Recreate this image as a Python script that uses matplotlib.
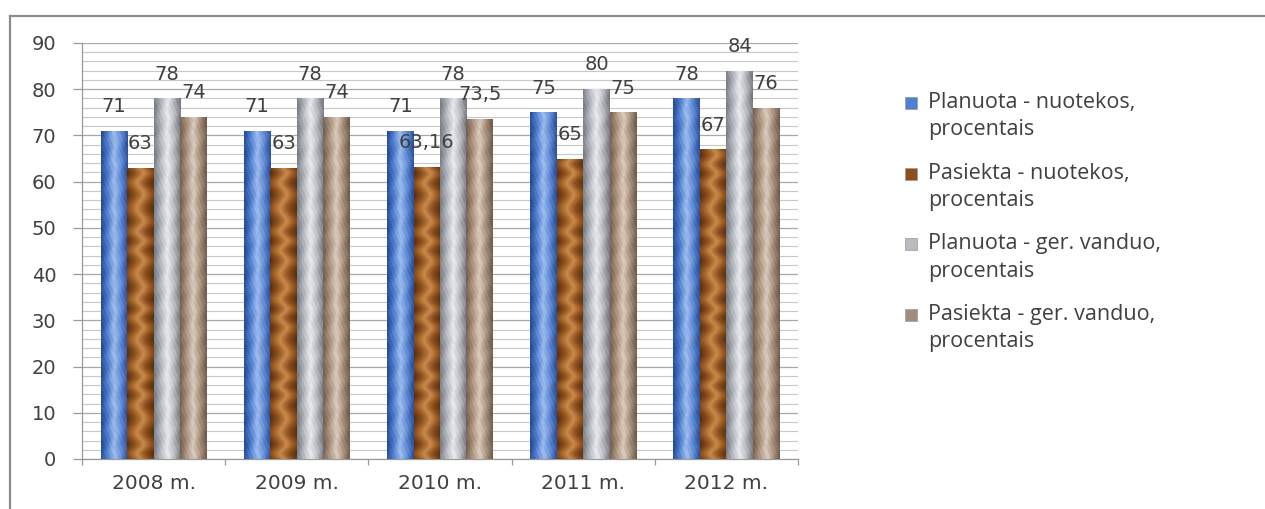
import numpy as np
import matplotlib
matplotlib.use("Agg")
import matplotlib.pyplot as plt
from matplotlib.colors import LinearSegmentedColormap
from matplotlib.lines import Line2D
from matplotlib.patches import Rectangle

# ---- data ----
categories = ["2008 m.", "2009 m.", "2010 m.", "2011 m.", "2012 m."]
series_names = [
    "Planuota - nuotekos,\nprocentais",
    "Pasiekta - nuotekos,\nprocentais",
    "Planuota - ger. vanduo,\nprocentais",
    "Pasiekta - ger. vanduo,\nprocentais",
]
planuota_nuotekos = [71, 71, 71, 75, 78]
pasiekta_nuotekos = [63, 63, 63.16, 65, 67]
planuota_vanduo = [78, 78, 78, 80, 84]
pasiekta_vanduo = [74, 74, 73.5, 75, 76]
y_ticks = [0, 10, 20, 30, 40, 50, 60, 70, 80, 90]

series = [planuota_nuotekos, pasiekta_nuotekos, planuota_vanduo, pasiekta_vanduo]

# ---- style ----
W, H = 1265, 509
palettes = [
    ["#274c96", "#4f7fd0", "#9fbcec", "#5f8ad6", "#2c5099"],
    ["#5a300f", "#93541f", "#c98a4c", "#8f4f1c", "#55300f"],
    ["#7a7e86", "#b4b8be", "#e8eaee", "#b8bbc1", "#767980"],
    ["#76624f", "#ac9482", "#dccbbb", "#a8907e", "#705c4b"],
]
legend_colors = ["#4f7fd0", "#8f4f1c", "#b8bbc0", "#a48c7a"]
text_color = "#404040"

fig = plt.figure(figsize=(W / 100, H / 100), dpi=100)
ax = fig.add_axes([82 / W, 1 - 459 / H, (798 - 82) / W, (459 - 43) / H])

n = len(categories)
x = np.arange(n)
bw = 0.185
offsets = (np.arange(len(series)) - 1.5) * bw


def fmt(v):
    return f"{v:g}".replace(".", ",")


for si, vals in enumerate(series):
    cmap = LinearSegmentedColormap.from_list(f"c{si}", palettes[si])
    bars = ax.bar(x + offsets[si], vals, width=bw, color=legend_colors[si],
                  edgecolor="none", zorder=3)
    for b, v in zip(bars, vals):
        x0, w, h = b.get_x(), b.get_width(), b.get_height()
        nx, ny = 40, 240
        tx = np.linspace(0, 1, nx)[None, :]
        ty = np.linspace(0, 1, ny)[:, None] * h
        img = tx + 0.0 * ty
        if si == 1:
            img = img * 0.8 + 0.2 * (0.5 + 0.5 * np.sin(ty * 1.3 + 0.7 * np.sin(ty * 0.4)))
        else:
            img = img + 0.06 * np.sin(ty * 2.1 + tx * 17) * np.sin(tx * 23 + ty * 0.9)
        img = np.clip(img, 0, 1)
        im = ax.imshow(img, extent=[x0, x0 + w, 0, h], origin="lower",
                       aspect="auto", cmap=cmap, zorder=4, interpolation="bilinear")
        im.set_clip_path(b)
        ax.annotate(fmt(v), (b.get_x() + w / 2, h), xytext=(0, 17.5),
                    textcoords="offset points", ha="center", va="center",
                    fontsize=14, color=text_color, zorder=6)

ax.set_xlim(-0.5, n - 0.5)
ax.set_ylim(0, 90)

ax.set_yticks(y_ticks)
ax.set_yticks(np.arange(0, 91, 2), minor=True)
ax.set_xticks(x)
ax.set_xticklabels(categories, fontsize=14.5)
ax.set_xticks(np.arange(n + 1) - 0.5, minor=True)

ax.grid(True, which="major", axis="y", color="#a8a8a8", lw=0.9, zorder=0)
ax.grid(True, which="minor", axis="y", color="#c8c8c8", lw=0.8, zorder=0)
ax.set_axisbelow(True)

ax.tick_params(axis="y", which="major", length=6.5, width=0.9, color="#9a9a9a",
               pad=12, labelsize=14, labelcolor=text_color)
ax.tick_params(axis="y", which="minor", length=0)
ax.tick_params(axis="x", which="major", length=0, pad=11, labelcolor=text_color)
ax.tick_params(axis="x", which="minor", length=4.5, width=0.9, color="#9a9a9a")

for s in ["top", "right"]:
    ax.spines[s].set_visible(False)
for s in ["left", "bottom"]:
    ax.spines[s].set_color("#9a9a9a")
    ax.spines[s].set_linewidth(0.9)

# outer frame (top and left)
fig.add_artist(Line2D([10 / W, 1], [1 - 16 / H, 1 - 16 / H], color="#8c8c8c", lw=1.6))
fig.add_artist(Line2D([10 / W, 10 / W], [0, 1 - 16 / H], color="#8c8c8c", lw=1.6))

# legend
for i, name in enumerate(series_names):
    yc = 103 + 70.7 * i
    fig.add_artist(Rectangle((905 / W, 1 - (yc + 6) / H), 12 / W, 12 / H,
                             transform=fig.transFigure, facecolor=legend_colors[i],
                             edgecolor="#9a9a9a", lw=0.5))
    fig.text(928 / W, 1 - (yc - 11) / H, name, ha="left", va="top",
             fontsize=15.5, family="Open Sans", color=text_color, linespacing=1.4)

fig.savefig("out.png", dpi=100)
